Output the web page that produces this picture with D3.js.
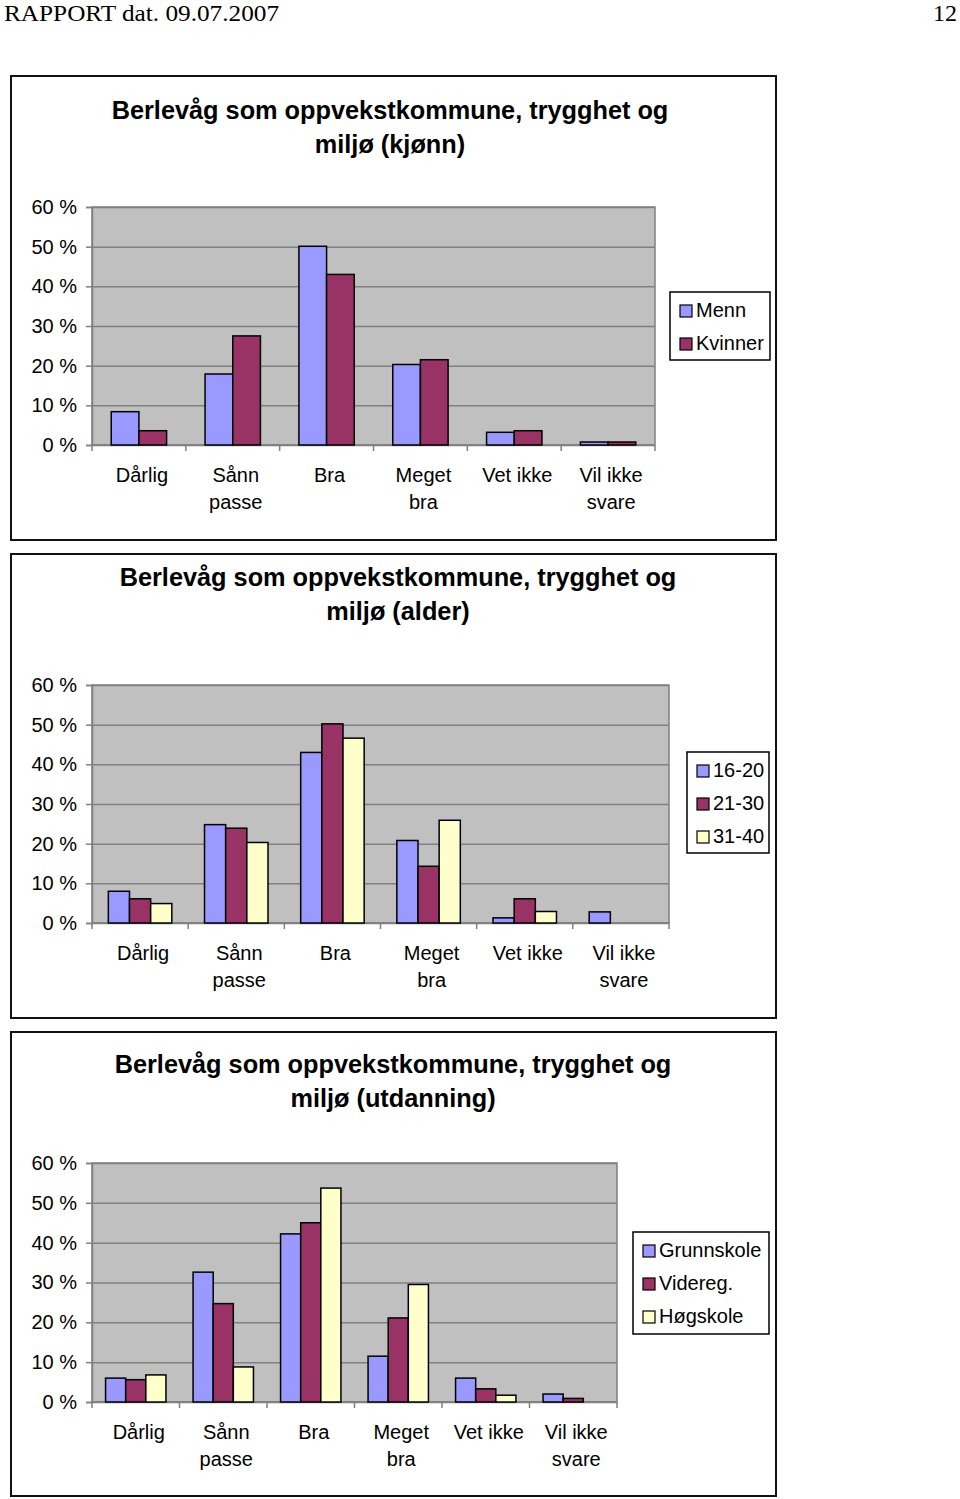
<!DOCTYPE html>
<html><head><meta charset="utf-8">
<script src="https://cdn.jsdelivr.net/npm/d3@7/dist/d3.min.js"></script>
<style>body{margin:0;background:#fff}svg{display:block}</style>
</head><body>
<svg id="c" width="960" height="1499"></svg>
<script>
const categories = [["Dårlig"],["Sånn","passe"],["Bra"],["Meget","bra"],["Vet ikke"],["Vil ikke","svare"]];
const yTicks = [0,10,20,30,40,50,60];

const chart1Titles = ["Berlevåg som oppvekstkommune, trygghet og","miljø (kjønn)"];
const chart1Series = ["Menn","Kvinner"];
const menn    = [8.4,17.9,50.1,20.3,3.2,0.75];
const kvinner = [3.6,27.5,43.0,21.5,3.6,0.75];

const chart2Titles = ["Berlevåg som oppvekstkommune, trygghet og","miljø (alder)"];
const chart2Series = ["16-20","21-30","31-40"];
const age1620 = [8.0,24.8,43.0,20.8,1.3,2.8];
const age2130 = [6.1,23.9,50.2,14.3,6.1,0];
const age3140 = [4.9,20.3,46.6,25.9,2.9,0];

const chart3Titles = ["Berlevåg som oppvekstkommune, trygghet og","miljø (utdanning)"];
const chart3Series = ["Grunnskole","Videreg.","Høgskole"];
const grunnskole = [6.0,32.6,42.2,11.5,6.0,2.0];
const videreg    = [5.6,24.7,45.0,21.1,3.3,0.9];
const hogskole   = [6.8,8.8,53.7,29.5,1.7,0];

const colors = ["#9999FF","#993366","#FFFFCC"];

const svg = d3.select("#c");
svg.append("text").attr("x",4).attr("y",21).attr("font-family","Liberation Serif, Times New Roman, serif")
  .attr("font-size",24).attr("textLength",275).attr("lengthAdjust","spacingAndGlyphs").text("RAPPORT dat. 09.07.2007");
svg.append("text").attr("x",957).attr("y",21).attr("text-anchor","end").attr("font-family","Liberation Serif, Times New Roman, serif")
  .attr("font-size",24).text("12");

function drawChart(cfg){
  const g = svg.append("g");
  const F = "Liberation Sans, Arial, sans-serif";
  g.append("rect").attr("x",cfg.box[0]).attr("y",cfg.box[1]).attr("width",cfg.box[2]).attr("height",cfg.box[3])
    .attr("fill","#fff").attr("stroke","#111").attr("stroke-width",2);
  cfg.titles.forEach((t,i)=>{
    g.append("text").attr("x",cfg.titleX).attr("y",cfg.titleY+i*34).attr("text-anchor","middle")
      .attr("dominant-baseline","central").attr("font-family",F).attr("font-weight","bold").attr("font-size",25.3).text(t);
  });
  const [px0,py0,px1,py1] = cfg.plot;
  const y = d3.scaleLinear().domain([0,60]).range([py1,py0]);
  const x0 = d3.scaleBand().domain(d3.range(categories.length)).range([px0,px1]).paddingInner(cfg.pad).paddingOuter(cfg.pad/2);
  const x1 = d3.scaleBand().domain(d3.range(cfg.series.length)).range([0,x0.bandwidth()]);
  g.append("rect").attr("x",px0).attr("y",py0).attr("width",px1-px0).attr("height",py1-py0).attr("fill","#C0C0C0")
    .attr("stroke","#808080").attr("stroke-width",1.5);
  g.append("g").attr("transform",`translate(${px0},0)`)
    .call(d3.axisLeft(y).tickValues(yTicks).tickSize(-(px1-px0)).tickFormat(""))
    .call(s=>{s.select(".domain").remove(); s.selectAll("line").attr("stroke","#808080").attr("stroke-width",1.5);});
  g.append("g").attr("transform",`translate(${px0},0)`)
    .call(d3.axisLeft(y).tickValues(yTicks).tickSize(6).tickPadding(9).tickFormat(d=>d+" %"))
    .call(s=>{s.select(".domain").attr("stroke","#808080").attr("stroke-width",1.5);
      s.selectAll("line").attr("stroke","#808080").attr("stroke-width",1.5);
      s.selectAll("text").attr("font-family",F).attr("font-size",20).attr("fill","#000");});
  const bounds = d3.range(categories.length+1).map(i=>px0+i*(px1-px0)/categories.length);
  g.append("line").attr("x1",px0).attr("x2",px1).attr("y1",py1).attr("y2",py1).attr("stroke","#808080").attr("stroke-width",1.5);
  g.selectAll(".bt").data(bounds).join("line").attr("x1",d=>d).attr("x2",d=>d).attr("y1",py1).attr("y2",py1+6)
    .attr("stroke","#808080").attr("stroke-width",1.5);
  categories.forEach((lines,i)=>{
    lines.forEach((l,j)=>{
      g.append("text").attr("x",x0(i)+x0.bandwidth()/2+3).attr("y",py1+30+j*27).attr("text-anchor","middle")
        .attr("dominant-baseline","central").attr("font-family",F).attr("font-size",20).text(l);
    });
  });
  cfg.data.forEach((vals,s)=>{
    g.selectAll(".b"+s).data(vals.map((v,i)=>({v,i}))).join("rect")
      .filter(d=>d.v>0)
      .attr("x",d=>x0(d.i)+x1(s)).attr("width",x1.bandwidth())
      .attr("y",d=>y(d.v)).attr("height",d=>y(0)-y(d.v))
      .attr("fill",colors[s]).attr("stroke","#000").attr("stroke-width",1.5);
  });
  const [lx,ly,lw,lh] = cfg.legend;
  g.append("rect").attr("x",lx).attr("y",ly).attr("width",lw).attr("height",lh).attr("fill","#fff").attr("stroke","#000").attr("stroke-width",1.5);
  cfg.series.forEach((name,s)=>{
    const cy = ly + cfg.legFirst + s*33;
    g.append("rect").attr("x",lx+10).attr("y",cy-5).attr("width",12).attr("height",12)
      .attr("fill",colors[s]).attr("stroke","#000").attr("stroke-width",1.2);
    g.append("text").attr("x",lx+26).attr("y",cy).attr("dominant-baseline","central")
      .attr("font-family",F).attr("font-size",20).text(name);
  });
}

drawChart({box:[11,76,765,464],titles:chart1Titles,titleX:390,titleY:110,plot:[92,207,655,445],pad:0.41,
  series:chart1Series,data:[menn,kvinner],legend:[670,292,100,68],legFirst:18});
drawChart({box:[11,554,765,464],titles:chart2Titles,titleX:398,titleY:577,plot:[92,685,669,923],pad:0.34,
  series:chart2Series,data:[age1620,age2130,age3140],legend:[687,752,82,101],legFirst:18});
drawChart({box:[11,1032,765,464],titles:chart3Titles,titleX:393,titleY:1064,plot:[92,1163,617,1402],pad:0.31,
  series:chart3Series,data:[grunnskole,videreg,hogskole],legend:[633,1232,136,102],legFirst:18});
</script>
</body></html>
